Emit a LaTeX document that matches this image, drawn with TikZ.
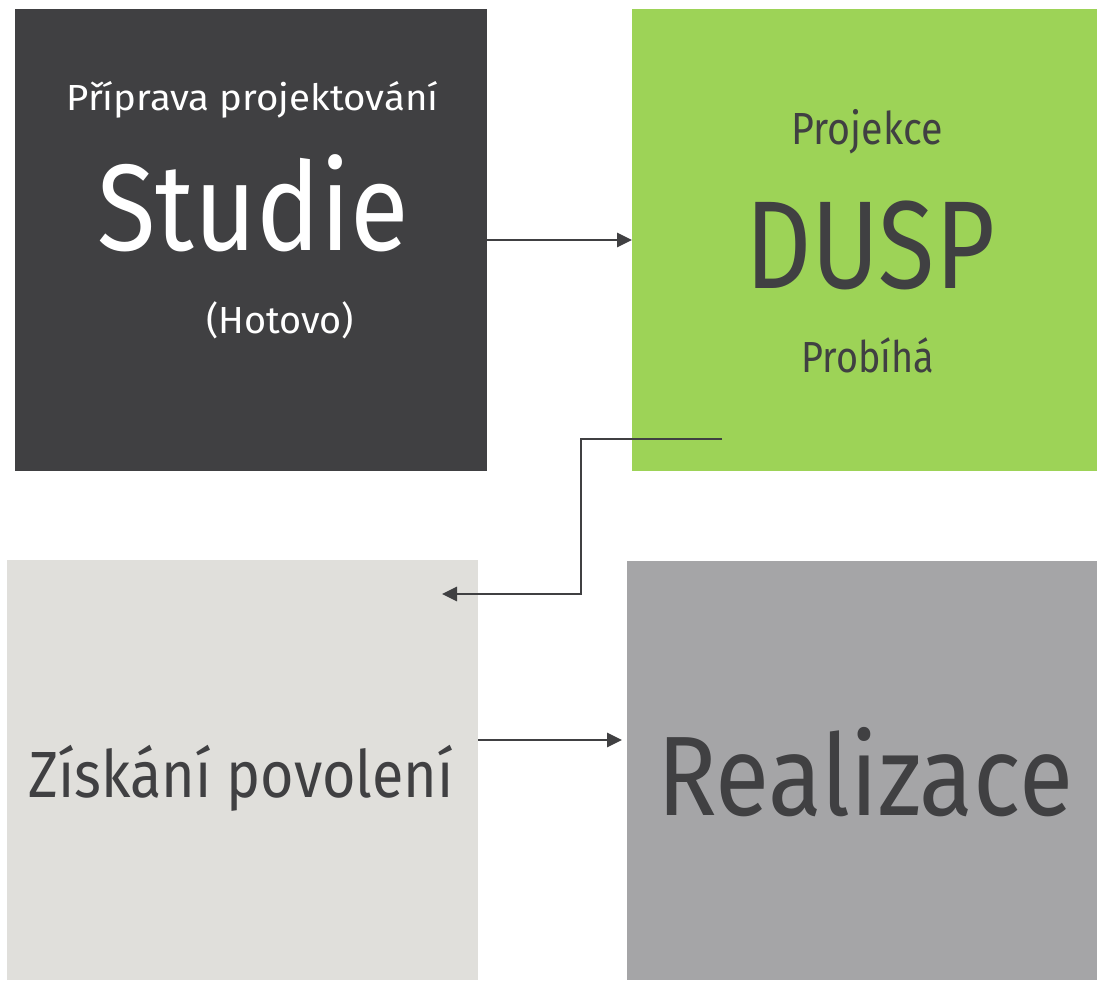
\documentclass[tikz,border=0pt]{standalone}
\usepackage{fontspec}
\setmainfont{Fira Sans}
\usetikzlibrary{arrows.meta}
\definecolor{darkbox}{RGB}{64,64,66}
\definecolor{greenbox}{RGB}{157,211,87}
\definecolor{lightbox}{RGB}{224,223,219}
\definecolor{greybox}{RGB}{165,165,167}
\definecolor{ink}{RGB}{64,64,66}
\newlength\fitlen
\newcommand\fitw[2]{\settowidth\fitlen{#2}\pgfmathsetmacro\fitsx{#1/\fitlen}\scalebox{\fitsx}[1]{#2}}
\begin{document}
\begin{tikzpicture}[x=1pt,y=-1pt,
  box/.style={draw=none,inner sep=0,outer sep=0,anchor=north west},
  lbl/.style={inner sep=0,outer sep=0,anchor=base},
  conn/.style={draw=ink,line width=2.8pt,-{Triangle[length=15pt,width=14pt]}}]
\useasboundingbox (0,0) rectangle (1097,980);
% boxes
\node[box,fill=darkbox,minimum width=472pt,minimum height=462pt] (studie) at (15,9) {};
\node[box,fill=greenbox,minimum width=465pt,minimum height=462pt] (dusp) at (632,9) {};
\node[box,fill=lightbox,minimum width=471pt,minimum height=420pt] (povoleni) at (7,560) {};
\node[box,fill=greybox,minimum width=470pt,minimum height=419pt] (realizace) at (627,561) {};
% labels
\node[lbl,text=white,font=\fontsize{36.3}{40}\selectfont] (t1) at (252.5,110) {\fitw{372}{Příprava projektování}};
\node[lbl,text=white,font=\fontsize{123}{130}\selectfont] (t2) at (253,250) {\fitw{312}{Studie}};
\node[lbl,text=white,font=\fontsize{37.7}{42}\selectfont] (t3) at (280,333) {\fitw{148}{(Hotovo)}};
\node[lbl,text=ink,font=\fontsize{45}{50}\selectfont] (t4) at (867,144) {\fitw{151}{Projekce}};
\node[lbl,text=ink,font=\fontsize{125}{130}\selectfont] (t5) at (870,288) {\fitw{250}{DUSP}};
\node[lbl,text=ink,font=\fontsize{43.5}{48}\selectfont] (t6) at (868,372) {\fitw{133}{Probíhá}};
\node[lbl,text=ink,font=\fontsize{65.3}{70}\selectfont] (t7) at (241,797) {\fitw{425}{Získání povolení}};
\node[lbl,text=ink,font=\fontsize{113}{120}\selectfont] (t8) at (865,815) {\fitw{416}{Realizace}};
% connectors
\coordinate (c2s) at (722,439);
\coordinate (c2e) at (442,594);
\coordinate (c3s) at (478,740);
\coordinate (c3e) at (622,740);
\draw[conn] (studie.east) -- (dusp.west);
\draw[conn] (c2s) -- ++(-141,0) |- (c2e);
\draw[conn] (c3s) -- (c3e);
\end{tikzpicture}
\end{document}
